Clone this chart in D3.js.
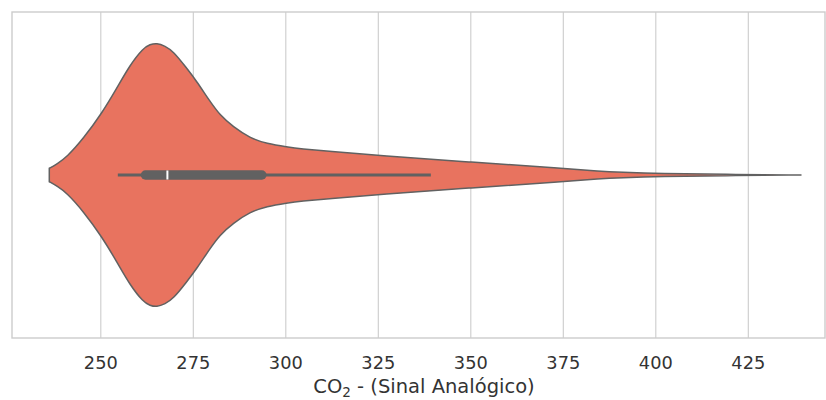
<!DOCTYPE html>
<html>
<head>
<meta charset="utf-8">
<script src="https://cdn.jsdelivr.net/npm/d3@7"></script>
<style>
  html, body { margin: 0; padding: 0; background: #ffffff; }
  svg { display: block; }
</style>
</head>
<body>
<svg id="chart" width="826" height="400"></svg>
<script>
// ---- data ----
const category = ["CO2"];
// kernel density outline: value on x, relative half-width (max = 1)
const densityValues = [236.08, 238.16, 240.78, 245.27, 250.24, 254.30, 257.89, 261.49, 263.30, 265.11, 267.35, 269.59, 273.22, 275.92, 279.51, 282.22, 285.73, 290.32, 294.84, 300.51, 303.84, 312.76, 325.19, 350.24, 374.92, 384.92, 390.32, 401.14, 418.70, 439.24];
const densityWidths = [0.051, 0.084, 0.135, 0.275, 0.466, 0.656, 0.834, 0.962, 0.989, 1.0, 0.977, 0.937, 0.809, 0.710, 0.557, 0.453, 0.366, 0.280, 0.237, 0.211, 0.198, 0.178, 0.147, 0.097, 0.051, 0.028, 0.021, 0.011, 0.005, 0.0];
// box summary: whisker low, Q1, median, Q3, whisker high
const boxStats = [254.6, 261.0, 268.0, 294.6, 339.2];
const tickValues = [250, 275, 300, 325, 350, 375, 400, 425];
const xDomain = [226.0, 446.0];
const xLabelMain = "CO";
const xLabelSub = "2";
const xLabelRest = " - (Sinal Analógico)";

(function () {
// ---- layout ----
const svg = d3.select("#chart");
const mLeft = 12, mRight = 826, mTop = 12, mBottom = 338;
const x = d3.scaleLinear().domain(xDomain).range([mLeft, mRight]);
const y = d3.scaleLinear().domain([-0.5, 0.5]).range([mBottom, mTop]);
const halfWidthMax = 0.405;

const fill = "#e8735f";
const gray = "#616161";
const gridColor = "#cccccc";
const textColor = "#333333";
const font = "DejaVu Sans, sans-serif";

// grid lines
svg.append("g").selectAll("line").data(tickValues).join("line")
  .attr("x1", d => x(d)).attr("x2", d => x(d))
  .attr("y1", mTop).attr("y2", mBottom)
  .attr("stroke", gridColor).attr("stroke-width", 1.1);

// frame
svg.append("rect")
  .attr("x", mLeft).attr("y", mTop)
  .attr("width", mRight - mLeft - 1).attr("height", mBottom - mTop)
  .attr("fill", "none").attr("stroke", gridColor).attr("stroke-width", 1.4);

// violin
const pts = densityValues.map((v, i) => ({v, w: densityWidths[i] * halfWidthMax}));
const area = d3.area()
  .x(d => x(d.v))
  .y0(d => y(0 - d.w))
  .y1(d => y(0 + d.w))
  .curve(d3.curveBasis);
svg.append("path")
  .datum(pts)
  .attr("d", area)
  .attr("fill", fill)
  .attr("stroke", gray)
  .attr("stroke-width", 1.5)
  .attr("stroke-linejoin", "round");

// inner box
const cy = y(0);
svg.append("line")
  .attr("x1", x(boxStats[0])).attr("x2", x(boxStats[4]))
  .attr("y1", cy).attr("y2", cy)
  .attr("stroke", gray).attr("stroke-width", 3);
svg.append("line")
  .attr("x1", x(boxStats[1]) + 4).attr("x2", x(boxStats[3]) - 4)
  .attr("y1", cy).attr("y2", cy)
  .attr("stroke", gray).attr("stroke-width", 9.5)
  .attr("stroke-linecap", "round");
svg.append("line")
  .attr("x1", x(boxStats[2])).attr("x2", x(boxStats[2]))
  .attr("y1", cy - 4.5).attr("y2", cy + 4.5)
  .attr("stroke", "#ffffff").attr("stroke-width", 2);

// tick labels
svg.append("g").selectAll("text").data(tickValues).join("text")
  .attr("x", d => x(d)).attr("y", 369)
  .attr("text-anchor", "middle")
  .attr("font-family", font).attr("font-size", 17.8)
  .attr("fill", textColor)
  .text(d => d);

// axis label
const lab = svg.append("text")
  .attr("x", 424).attr("y", 393)
  .attr("text-anchor", "middle")
  .attr("font-family", font).attr("font-size", 19.5)
  .attr("fill", textColor);
lab.append("tspan").text(xLabelMain);
lab.append("tspan").attr("font-size", 13.6).attr("dy", 4).text(xLabelSub);
lab.append("tspan").attr("dy", -4).text(xLabelRest);
})();
</script>
</body>
</html>
